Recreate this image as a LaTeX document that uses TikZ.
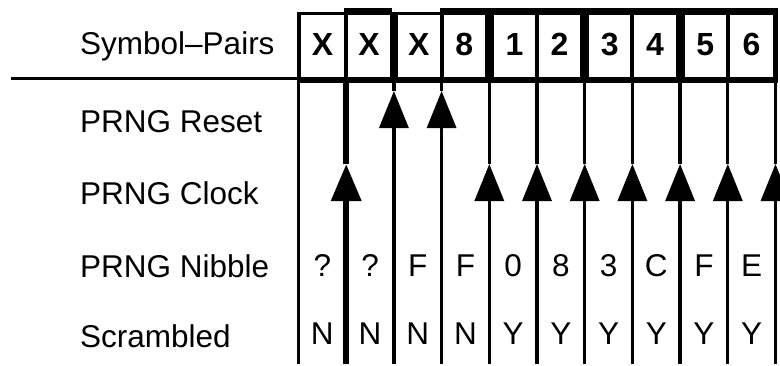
\documentclass[tikz,border=0pt]{standalone}
\usepackage{fontspec}
\setmainfont{Liberation Sans}
\usetikzlibrary{arrows.meta}
\begin{document}
\begin{tikzpicture}[x=1pt,y=-1pt,
  lbl/.style={anchor=base west, inner sep=0pt, font=\fontsize{31.5}{36}\selectfont},
  val/.style={anchor=base, inner sep=0pt, font=\fontsize{31.5}{36}\selectfont},
  cell/.style={fill=white, inner sep=0pt, minimum height=62pt, text height=23pt, text depth=5pt, font=\fontsize{32}{36}\selectfont\bfseries},
  wire/.style={line width=3.3pt},
  heavy/.style={line width=6.5pt},
  up/.style={-{Triangle[width=29pt,length=37pt]}}
]
\useasboundingbox (0,0) rectangle (780,365);
\clip (0,0) rectangle (780,365);

% boundary coordinates
\foreach \i/\x in {0/298.5,1/346.2,2/393.9,3/441.6,4/489.3,5/537.0,6/584.7,7/632.4,8/680.1,9/727.8,10/775.5}{
  \coordinate (t\i) at (\x,80);
  \coordinate (b\i) at (\x,364);
  \coordinate (r\i) at (\x,91);
  \coordinate (c\i) at (\x,164);
}

% vertical lines with arrows
\draw[wire] (b0) -- (t0);
\draw[heavy,up] (b1) -- (c1); \draw[heavy] (c1) -- (t1);
\foreach \i in {2,3}{
  \draw[wire,up] (b\i) -- (r\i); \draw[wire] (r\i) -- (t\i);
}
\foreach \i in {4,...,10}{
  \draw[wire,up] (b\i) -- (c\i); \draw[wire] (c\i) -- (t\i);
}

% symbol-pair box row
\fill (297,12) rectangle (778,83);
\fill (344.2,8) rectangle (392,12);
\fill (440,8) rectangle (778,12);

\node[cell, minimum width=43.2pt] (s1) at (322.6,46) {X};
\node[cell, minimum width=41.7pt] (s2) at (369.05,46) {X};
\node[cell, minimum width=41.7pt] (s3) at (418.75,46) {X};
\node[cell, minimum width=41.2pt] (s4) at (464.2,46) {8};
\node[cell, minimum width=41.2pt] (s5) at (514.4,46) {1};
\node[cell, minimum width=41.2pt] (s6) at (559.6,46) {2};
\node[cell, minimum width=41.2pt] (s7) at (609.8,46) {3};
\node[cell, minimum width=41.2pt] (s8) at (655,46) {4};
\node[cell, minimum width=41.2pt] (s9) at (705.2,46) {5};
\node[cell, minimum width=43.2pt] (s10) at (751.4,46) {6};

% header rule
\coordinate (hl) at (11,78.5);
\coordinate (hr) at (298,78.5);
\draw[line width=2.8pt] (hl) -- (hr);

% row labels
\node[lbl] (lsym) at (80,54.3) {Symbol–Pairs};
\node[lbl] (lres) at (80,132.3) {PRNG Reset};
\node[lbl] (lclk) at (80,204.8) {PRNG Clock};
\node[lbl] (lnib) at (80,277.5) {PRNG Nibble};
\node[lbl] (lscr) at (80,347) {Scrambled};

% values
\foreach \k/\x/\n/\s in {1/322.35/?/N,2/370.05/?/N,3/417.75/F/N,4/465.45/F/N,5/513.15/0/Y,6/560.85/8/Y,7/608.55/3/Y,8/656.25/C/Y,9/703.95/F/Y,10/751.65/E/Y}{
  \node[val] (n\k) at (\x,276) {\n};
  \node[val] (y\k) at (\x,344) {\s};
}
\end{tikzpicture}
\end{document}
